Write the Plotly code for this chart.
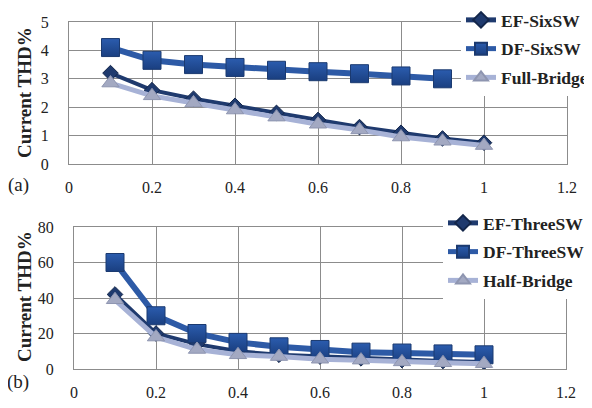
import plotly.graph_objects as go

x_vals = [0.1, 0.2, 0.3, 0.4, 0.5, 0.6, 0.7, 0.8, 0.9, 1.0]

# Panel (a)  (DF-SixSW point at 1.0 is hidden behind the legend in the source)
ef_six = [3.2, 2.6, 2.3, 2.05, 1.8, 1.55, 1.3, 1.1, 0.9, 0.75]
df_six = [4.1, 3.65, 3.5, 3.4, 3.3, 3.25, 3.18, 3.1, 3.0, None]
full_bridge = [2.85, 2.4, 2.15, 1.9, 1.65, 1.4, 1.2, 0.95, 0.8, 0.65]

# Panel (b)
ef_three = [42, 20, 14, 10, 8, 7, 6, 5, 4.5, 4]
df_three = [60, 30, 20, 15, 12.5, 11, 9.5, 9, 8.5, 8]
half_bridge = [39, 18, 11, 8, 7, 5.5, 5, 4, 3.5, 3]

x_ticks = [0, 0.2, 0.4, 0.6, 0.8, 1, 1.2]
x_tick_text = ["0", "0.2", "0.4", "0.6", "0.8", "1", "1.2"]

SERIF = "Liberation Serif"
EF_COL = "#1F3A6E"
DF_COL = "#2D5AA6"
FB_COL = "#A7B2D6"

# the page body adds an 8px offset; figure is sized to fill the rest
OFF = 8
W, H = 592 - OFF, 408 - OFF


def px(x):
    return (x - OFF) / W


def py(y):
    return 1 - (y - OFF) / H


fig = go.Figure()


def add_panel(xa, ya, legend, names, ys):
    ef, df, fb = ys
    fig.add_trace(go.Scatter(
        x=x_vals, y=ef, name=names[0], xaxis=xa, yaxis=ya, legend=legend,
        legendgroup=legend + "a", mode="lines+markers",
        line=dict(color=EF_COL, width=4),
        marker=dict(symbol="diamond", size=12, color=EF_COL,
                    line=dict(color="#13264A", width=1))))
    fig.add_trace(go.Scatter(
        x=x_vals, y=df, name=names[1], xaxis=xa, yaxis=ya, legend=legend,
        legendgroup=legend + "b", mode="lines+markers",
        line=dict(color=DF_COL, width=6),
        marker=dict(symbol="square", size=18, color="#2B5CAE",
                    gradient=dict(type="vertical", color="#1A3F80"),
                    line=dict(color="#1B3A70", width=1))))
    fig.add_trace(go.Scatter(
        x=x_vals, y=fb, name=names[2], xaxis=xa, yaxis=ya, legend=legend,
        legendgroup=legend + "c", mode="lines+markers",
        line=dict(color=FB_COL, width=5),
        marker=dict(symbol="triangle-up", size=15, color="#A3A9C2",
                    line=dict(color="#8E95B0", width=1))))


add_panel("x", "y", "legend", ["EF-SixSW", "DF-SixSW", "Full-Bridge"],
          [ef_six, df_six, full_bridge])
add_panel("x2", "y2", "legend2", ["EF-ThreeSW", "DF-ThreeSW", "Half-Bridge"],
          [ef_three, df_three, half_bridge])

grid = "#8C8C8C"
tickfont = dict(family=SERIF, size=16, color="#222222")

xcommon = dict(range=[0, 1.2], tickvals=x_ticks, ticktext=x_tick_text,
               showgrid=True, gridcolor=grid, gridwidth=1, showline=True,
               linecolor=grid, mirror=True, zeroline=False, tickfont=tickfont,
               ticklabelstandoff=9, fixedrange=True, automargin=False)
ycommon = dict(showgrid=True, gridcolor=grid, gridwidth=1, showline=True,
               linecolor=grid, mirror=True, zeroline=False, tickfont=tickfont,
               ticklabelstandoff=16, fixedrange=True, automargin=False)

legend_common = dict(bgcolor="white", borderwidth=0,
                     font=dict(family=SERIF, size=17.5, color="#222222",
                               weight="bold"),
                     tracegroupgap=3, itemwidth=30, xanchor="left",
                     yanchor="top", itemsizing="constant")

ann_font = dict(family=SERIF, size=19, color="#222222", weight="bold")
lab_font = dict(family=SERIF, size=19, color="#222222")

fig.update_layout(
    width=W, height=H,
    margin=dict(l=0, r=0, t=0, b=0, pad=0, autoexpand=False),
    paper_bgcolor="white", plot_bgcolor="white", showlegend=True,
    xaxis=dict(domain=[px(69), px(567)], anchor="y", **xcommon),
    yaxis=dict(domain=[py(164), py(22)], anchor="x", range=[0, 5],
               dtick=1, **ycommon),
    xaxis2=dict(domain=[px(74), px(566)], anchor="y2", **xcommon),
    yaxis2=dict(domain=[py(369), py(227)], anchor="x2", range=[0, 80],
                dtick=20, **ycommon),
    legend=dict(x=px(461), y=py(2), **legend_common),
    legend2=dict(x=px(443), y=py(205), **legend_common),
    annotations=[
        dict(text="Current THD%", x=px(24), y=py(93), xref="paper",
             yref="paper", textangle=-90, showarrow=False,
             xanchor="center", yanchor="middle", font=ann_font),
        dict(text="Current THD%", x=px(24), y=py(297), xref="paper",
             yref="paper", textangle=-90, showarrow=False,
             xanchor="center", yanchor="middle", font=ann_font),
        dict(text="(a)", x=px(18), y=py(185), xref="paper", yref="paper",
             showarrow=False, xanchor="center", yanchor="middle",
             font=lab_font),
        dict(text="(b)", x=px(18), y=py(382), xref="paper", yref="paper",
             showarrow=False, xanchor="center", yanchor="middle",
             font=lab_font),
    ],
)

fig.write_html("out.html")
